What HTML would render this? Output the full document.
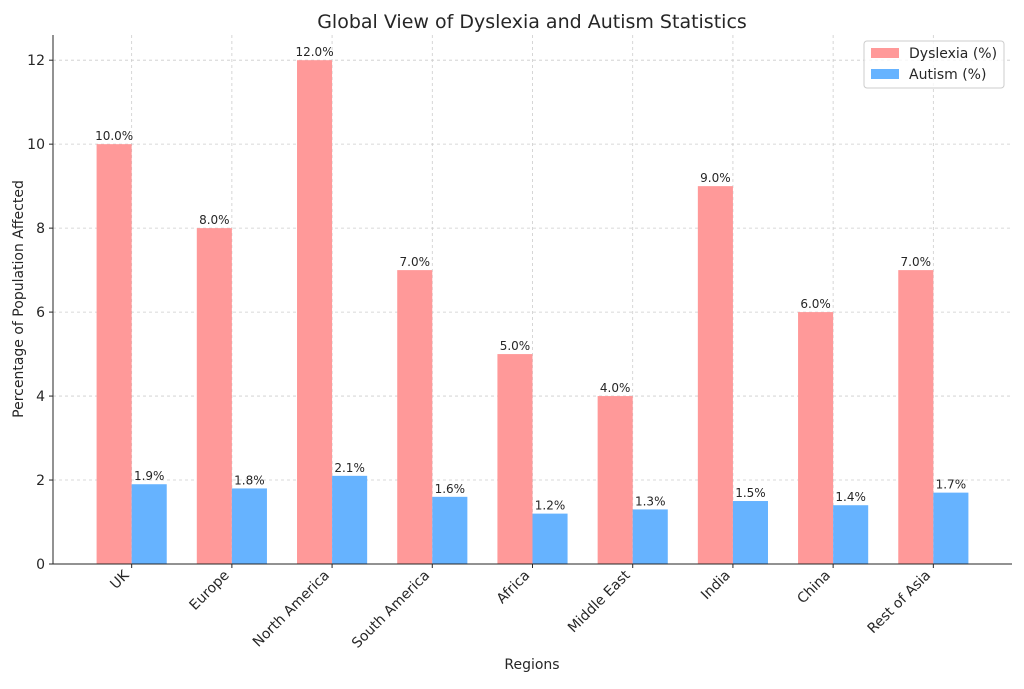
<!DOCTYPE html>
<html><head><meta charset="utf-8"><style>
html,body{margin:0;padding:0;background:#fff;}
svg text{font-family:"DejaVu Sans","Liberation Sans",sans-serif;fill:#262626;}
</style></head><body>
<svg id="chart" width="1024" height="684" xmlns="http://www.w3.org/2000/svg">
<g id="grid"></g>
<g id="bars"></g>
<g id="labels"></g>
<g id="axes"></g>
<text x="532" y="28" text-anchor="middle" font-size="19">Global View of Dyslexia and Autism Statistics</text>
<text x="532" y="669" text-anchor="middle" font-size="14">Regions</text>
<text transform="translate(23,299) rotate(-90)" text-anchor="middle" font-size="14">Percentage of Population Affected</text>
<g>
<rect x="864" y="41" width="140" height="47" rx="3" fill="#fff" fill-opacity="0.8" stroke="#ccc"/>
<rect x="871" y="48" width="28" height="10" fill="#ff9999"/>
<text x="909" y="58" font-size="14">Dyslexia (%)</text>
<rect x="871" y="69" width="28" height="10" fill="#66b3ff"/>
<text x="909" y="79" font-size="14">Autism (%)</text>
</g>
</svg>
<script>
const categories = ["UK","Europe","North America","South America","Africa","Middle East","India","China","Rest of Asia"];
const dyslexia = [10,8,12,7,5,4,9,6,7];
const autism = [1.9,1.8,2.1,1.6,1.2,1.3,1.5,1.4,1.7];
const yTicks = [0,2,4,6,8,10,12];

const NS="http://www.w3.org/2000/svg";
const L=53,R=1012,T=35,B=564;
const xMin=-0.785,xMax=categories.length-1+0.785,yMax=12.6;
const xs=v=>L+(v-xMin)/(xMax-xMin)*(R-L);
const ys=v=>B-v/yMax*(B-T);
const bw=0.35*(R-L)/(xMax-xMin);
function mk(tag,attrs,parent,txt){const e=document.createElementNS(NS,tag);for(const k in attrs)e.setAttribute(k,attrs[k]);if(txt!==undefined)e.textContent=txt;document.getElementById(parent).appendChild(e);return e;}
yTicks.forEach(t=>{const l=mk('line',{x1:L,x2:R,y1:ys(t),y2:ys(t),stroke:'#ccc','stroke-dasharray':'3,3','stroke-width':0.8},'grid');

});
categories.forEach((c,i)=>{const l=mk('line',{x1:xs(i),x2:xs(i),y1:T,y2:B,stroke:'#ccc','stroke-dasharray':'3,3','stroke-width':0.8},'grid');

});
categories.forEach((c,i)=>{
 const cx=xs(i);
 const b1=mk('rect',{x:cx-bw,y:ys(dyslexia[i]),width:bw,height:B-ys(dyslexia[i]),fill:'#ff9999'},'bars');
 
 
 const b2=mk('rect',{x:cx,y:ys(autism[i]),width:bw,height:B-ys(autism[i]),fill:'#66b3ff'},'bars');
 
 
 const t1=mk('text',{x:cx-bw/2,y:ys(dyslexia[i])-4,'text-anchor':'middle','font-size':12},'labels',dyslexia[i].toFixed(1)+'%');
 
 
 const t2=mk('text',{x:cx+bw/2,y:ys(autism[i])-4,'text-anchor':'middle','font-size':12},'labels',autism[i].toFixed(1)+'%');
 
 
 const tk=mk('line',{x1:cx,x2:cx,y1:B,y2:B+4,stroke:'#262626'},'axes');
 
 
 const tl=mk('text',{transform:`translate(${cx-2},${B+12}) rotate(-45)`,'text-anchor':'end','font-size':14},'axes',c);
 
 
});
yTicks.forEach(t=>{
 const tk=mk('line',{x1:L-4,x2:L,y1:ys(t),y2:ys(t),stroke:'#262626'},'axes');
 
 
 const tl=mk('text',{x:L-8,y:ys(t)+5,'text-anchor':'end','font-size':14},'axes',String(t));
 
 
});
const ax=mk('path',{d:`M${L},${T}V${B}H${R}`,fill:'none',stroke:'#262626','stroke-width':1},'axes');


</script>
</body></html>
